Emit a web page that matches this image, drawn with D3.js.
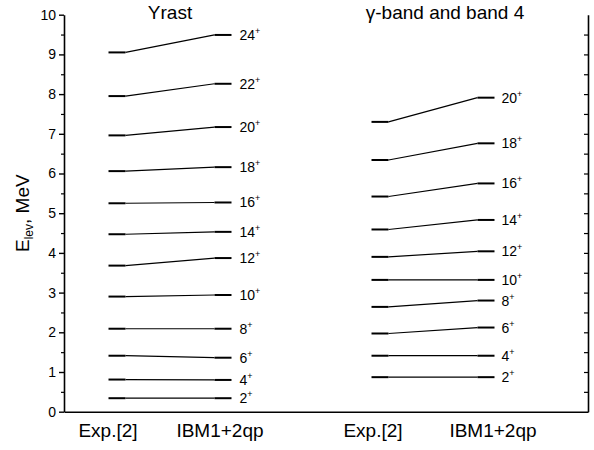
<!DOCTYPE html>
<html>
<head>
<meta charset="utf-8">
<script src="https://cdn.jsdelivr.net/npm/d3@7"></script>
<style>
  body { margin: 0; background: #fff; }
  svg { font-family: "Liberation Sans", Arial, Helvetica, sans-serif; }
</style>
</head>
<body>
<svg width="594" height="450"></svg>
<script>
// level energies (MeV)
const yrastSpins = ["2", "4", "6", "8", "10", "12", "14", "16", "18", "20", "22", "24"];
const yrastExp = [0.34, 0.81, 1.41, 2.09, 2.90, 3.68, 4.47, 5.25, 6.06, 6.96, 7.95, 9.05];
const yrastIbm = [0.34, 0.80, 1.36, 2.09, 2.94, 3.87, 4.53, 5.27, 6.16, 7.17, 8.26, 9.49];

const gammaSpins = ["2", "4", "6", "8", "10", "12", "14", "16", "18", "20"];
const gammaExp = [0.87, 1.41, 1.97, 2.64, 3.32, 3.90, 4.59, 5.42, 6.34, 7.30];
const gammaIbm = [0.87, 1.41, 2.12, 2.80, 3.32, 4.04, 4.83, 5.75, 6.76, 7.91];

const bands = ["Yrast", "γ-band and band 4"];
const columns = ["Exp.[2]", "IBM1+2qp"];
const yTicks = [0, 1, 2, 3, 4, 5, 6, 7, 8, 9, 10];

const svg = d3.select("svg");
const mLeft = 64, mRight = 588, mTop = 14.7, mBottom = 411.7;

const y = d3.scaleLinear().domain([0, 10]).range([mBottom, mTop]);
const xBand = d3.scalePoint().domain(bands).range([170, 433]);
const xCol = d3.scalePoint().domain(columns).range([-53, 53]);
const half = 8.5;

// axes
const minor = d3.range(0.5, 10, 1);
svg.append("g")
    .attr("transform", `translate(${mLeft},0)`)
    .call(d3.axisLeft(y).tickValues(minor).tickSize(3).tickFormat("").tickSizeOuter(0))
    .call(g => g.select(".domain").remove())
    .selectAll("line").attr("stroke-width", 1.2);

svg.append("g")
    .attr("transform", `translate(${mLeft},0)`)
    .call(d3.axisLeft(y).tickValues(yTicks).tickSize(5).tickSizeOuter(0).tickPadding(3))
    .call(g => g.select(".domain").attr("stroke-width", 1.6))
    .call(g => g.selectAll("line").attr("stroke-width", 1.4))
    .call(g => g.selectAll("text").attr("font-size", 14).attr("fill", "#000")
        .attr("font-family", "Liberation Sans, Arial, sans-serif"));

svg.append("g")
    .attr("transform", `translate(${mRight},0)`)
    .call(d3.axisLeft(y).tickValues(d3.range(0.5, 10, 0.5)).tickSize(4).tickFormat("").tickSizeOuter(0))
    .call(g => g.select(".domain").attr("stroke-width", 1.6))
    .selectAll("line").attr("stroke-width", 1.2);

const xLine = d3.scaleLinear().domain([0, 1]).range([mLeft, mRight]);
svg.append("g")
    .attr("transform", `translate(0,${mBottom})`)
    .call(d3.axisBottom(xLine).tickValues([]).tickSizeOuter(0))
    .select(".domain").attr("stroke-width", 1.6);

// y label
const yl = svg.append("text")
    .attr("transform", `translate(29,${y(5)}) rotate(-90)`)
    .attr("text-anchor", "middle")
    .attr("font-size", 19);
yl.append("tspan").text("E");
yl.append("tspan").attr("font-size", 12).attr("dy", 4).text("lev");
yl.append("tspan").attr("dy", -4).text(", MeV");

// band titles
svg.selectAll("text.title")
    .data(bands)
    .join("text")
    .attr("class", "title")
    .attr("x", (d, i) => xBand(d) + (i ? 12 : 0))
    .attr("y", 19)
    .attr("text-anchor", "middle")
    .attr("font-size", 19)
    .text(d => d);

// column labels
const labelShift = [[-9, -3], [-7, 7]];
bands.forEach((b, bi) => {
    svg.append("g").selectAll("text")
        .data(columns)
        .join("text")
        .attr("x", (d, ci) => xBand(b) + xCol(d) + labelShift[bi][ci])
        .attr("y", 437)
        .attr("text-anchor", "middle")
        .attr("font-size", 19)
        .text(d => d);
});

function drawBand(band, spins, exp, ibm, labelGap) {
    const x0 = xBand(band) + xCol(columns[0]);
    const x1 = xBand(band) + xCol(columns[1]);
    const levels = spins.map((s, i) => ({ spin: s, e: exp[i], t: ibm[i] }));
    const g = svg.append("g");

    g.selectAll("line.conn")
        .data(levels)
        .join("line")
        .attr("class", "conn")
        .attr("x1", x0 + half).attr("x2", x1 - half)
        .attr("y1", d => y(d.e)).attr("y2", d => y(d.t))
        .attr("stroke", "#000").attr("stroke-width", 1.2);

    g.selectAll("line.exp")
        .data(levels)
        .join("line")
        .attr("class", "exp")
        .attr("x1", x0 - half).attr("x2", x0 + half)
        .attr("y1", d => y(d.e)).attr("y2", d => y(d.e))
        .attr("stroke", "#000").attr("stroke-width", 2);

    g.selectAll("line.ibm")
        .data(levels)
        .join("line")
        .attr("class", "ibm")
        .attr("x1", x1 - half).attr("x2", x1 + half)
        .attr("y1", d => y(d.t)).attr("y2", d => y(d.t))
        .attr("stroke", "#000").attr("stroke-width", 2);

    const lab = g.selectAll("text")
        .data(levels)
        .join("text")
        .attr("x", x1 + half + labelGap)
        .attr("y", d => y(d.t) + 5)
        .attr("font-size", 14);
    lab.append("tspan").text(d => d.spin);
    lab.append("tspan").attr("font-size", 9).attr("dy", -6).text("+");
}

drawBand(bands[0], yrastSpins, yrastExp, yrastIbm, 8);
drawBand(bands[1], gammaSpins, gammaExp, gammaIbm, 7);
</script>
</body>
</html>
